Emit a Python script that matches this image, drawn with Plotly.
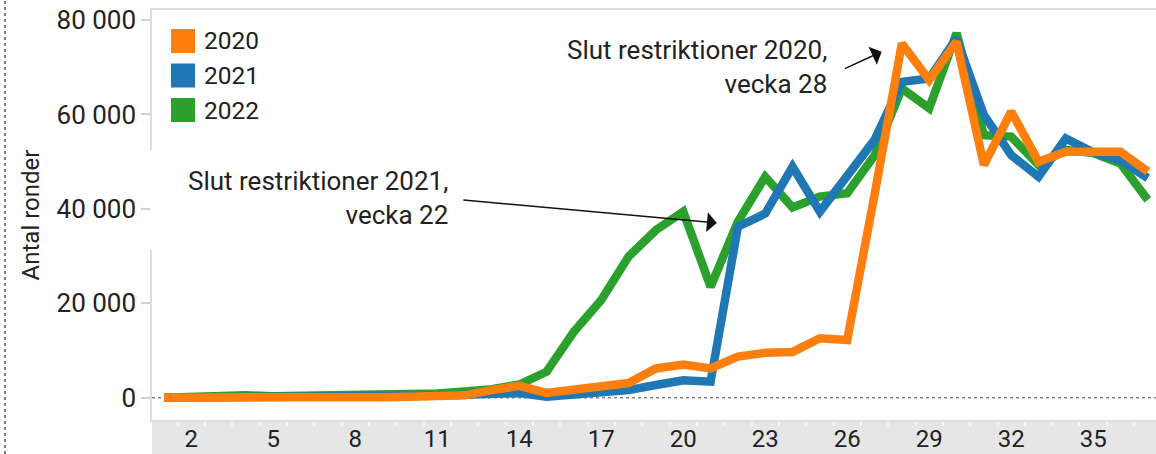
import plotly.graph_objects as go

weeks = list(range(1, 38))
series_names = ["2020", "2021", "2022"]
v2020 = [0, 100, 200, 400, 100, 100, 0, 100, 100, 200, 200, 500, 1600, 2500, 1000,
         1800, 2700, 3100, 6200, 7000, 6200, 8700, 9500, 9700, 12600, 12200, 43000,
         75000, 67300, 75400, 49300, 60600, 50000, 52100, 52100, 52100, 47900]
v2021 = [0, 0, 0, 0, 0, 0, 0, 0, 100, 300, 400, 600, 900, 1000, 200,
         600, 1300, 1600, 2700, 3700, 3400, 36200, 39000, 48900, 39400, 47300, 54600,
         66900, 67600, 76100, 59900, 51400, 46800, 54900, 52000, 50300, 46500]
v2022 = [0, 300, 400, 500, 300, 400, 300, 300, 400, 600, 900, 1300, 1800, 2800, 5500,
         14000, 20700, 29900, 35500, 39400, 23500, 37300, 46800, 40300, 42600, 43300, 51300,
         65500, 61300, 77200, 55600, 55300, 49300, 52500, 51800, 49600, 41900]
x_tickvals = [2, 5, 8, 11, 14, 17, 20, 23, 26, 29, 32, 35]
y_tickvals = [0, 20000, 40000, 60000, 80000]
colors = {"2020": "#FF7F0E", "2021": "#1F77B4", "2022": "#2CA02C"}
values = {"2020": v2020, "2021": v2021, "2022": v2022}

FONT = "Roboto"
W, H = 1156, 454
ML, MR, MT, MB = 152, 0, 10, 34
PW, PH = W - ML - MR, H - MT - MB

fig = go.Figure()
for name in ["2022", "2021", "2020"]:
    fig.add_trace(go.Scatter(
        x=weeks, y=values[name], mode="lines", name=name,
        line=dict(color=colors[name], width=8.5, shape="linear"),
        showlegend=False, hoverinfo="skip"))

def px_x(p):
    return (p - ML) / PW

def px_y(p):
    return (H - MB - p) / PH

shapes = []
annotations = []
# gray x-axis band
shapes.append(dict(type="rect", xref="paper", yref="paper", x0=0, x1=1,
                   y0=-MB / PH, y1=0, fillcolor="#E6E6E6", line=dict(width=0), layer="below"))
# zero dashed line
shapes.append(dict(type="line", xref="paper", yref="y", x0=0, x1=1, y0=0, y1=0,
                   line=dict(color="#888888", width=1.5, dash="dot"), layer="below"))
# dotted frame on far left
shapes.append(dict(type="line", xref="paper", yref="paper", x0=px_x(5), x1=px_x(5),
                   y0=px_y(H), y1=px_y(0), line=dict(color="#555555", width=1.5, dash="dot")))
# white gap in left axis line behind annotation box
shapes.append(dict(type="rect", xref="paper", yref="paper", x0=px_x(150), x1=px_x(155),
                   y0=px_y(250), y1=px_y(150), fillcolor="white", line=dict(width=0), layer="above"))

# manual legend
for i, name in enumerate(series_names):
    cy = 41 + i * 34.5
    shapes.append(dict(type="rect", xref="paper", yref="paper",
                       x0=px_x(171), x1=px_x(195), y0=px_y(cy + 12), y1=px_y(cy - 12),
                       fillcolor=colors[name], line=dict(width=0)))
    annotations.append(dict(xref="paper", yref="paper", x=px_x(202), y=px_y(cy),
                            text=name, showarrow=False, xanchor="left", yanchor="middle",
                            font=dict(family=FONT, size=24.5, color="#222222")))

# annotation texts
annotations.append(dict(x=11.43, y=42300, xref="x", yref="y",
                        text="Slut restriktioner 2021,<br>vecka 22", showarrow=False,
                        xanchor="right", yanchor="middle", align="right", borderpad=0,
                        font=dict(family=FONT, size=26, color="#222222")))
annotations.append(dict(x=21.23, y=37000, ax=11.9, ay=41900, xref="x", yref="y",
                        axref="x", ayref="y", text="", showarrow=True,
                        arrowhead=1, arrowsize=2.2, arrowwidth=1.5, arrowcolor="#111111"))
annotations.append(dict(x=25.28, y=70000, xref="x", yref="y",
                        text="Slut restriktioner 2020,<br>vecka 28", showarrow=False,
                        xanchor="right", yanchor="middle", align="right", borderpad=0,
                        font=dict(family=FONT, size=26, color="#222222")))
annotations.append(dict(x=27.26, y=73300, ax=25.86, ay=69550, xref="x", yref="y",
                        axref="x", ayref="y", text="", showarrow=True,
                        arrowhead=1, arrowsize=2.2, arrowwidth=1.5, arrowcolor="#111111"))

fig.update_layout(
    width=W, height=H,
    margin=dict(l=ML, r=MR, t=MT, b=MB, pad=0, autoexpand=False),
    paper_bgcolor="white", plot_bgcolor="white",
    separators=", ",
    font=dict(family=FONT, size=24, color="#222222"),
    shapes=shapes, annotations=annotations,
    showlegend=False,
)
fig.update_xaxes(
    range=[0.56, 37.30], tickmode="array", tickvals=x_tickvals, automargin=False,
    ticks="", showgrid=False, zeroline=False, ticklabelstandoff=-4,
    showline=True, linecolor="#DDDDDD", linewidth=1.5, mirror=True,
    tickfont=dict(family=FONT, size=24, color="#222222"),
    minor=dict(tickvals=[w + 0.5 for w in weeks], ticks="outside", ticklen=4,
               tickcolor="#F4F4F4", tickwidth=1.5),
)
fig.update_yaxes(
    range=[-4723, 82118], tickmode="array", tickvals=y_tickvals, tickformat=",d",
    automargin=False,
    ticks="outside", ticklen=9, tickcolor="#D0D0D0", tickwidth=1.5,
    showgrid=False, zeroline=False,
    showline=True, linecolor="#DDDDDD", linewidth=1.5, mirror=True,
    tickfont=dict(family=FONT, size=26, color="#222222"),
    title=dict(text="Antal ronder", font=dict(family=FONT, size=24, color="#222222"), standoff=10),
)

fig.write_html("out.html", config={"displayModeBar": False},
               post_script="document.body.style.margin='0';document.body.style.overflow='hidden';")
